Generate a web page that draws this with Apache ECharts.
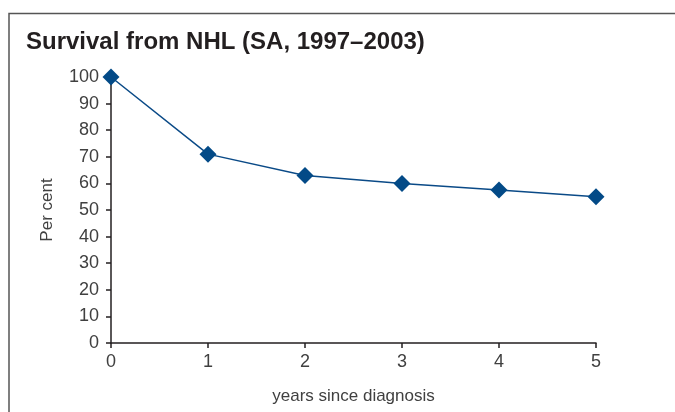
<!DOCTYPE html>
<html><head><meta charset="utf-8">
<script src="https://cdn.jsdelivr.net/npm/echarts@6/dist/echarts.min.js"></script>
<style>html,body{margin:0;padding:0;background:#fff}#c{width:675px;height:412px}</style>
</head><body><div id="c"></div>
<script>
var years = [0, 1, 2, 3, 4, 5];
var survival = [100, 71, 63, 60, 57.5, 55];
var yTicks = [0, 10, 20, 30, 40, 50, 60, 70, 80, 90, 100];

var chart = echarts.init(document.getElementById('c'), null, {renderer: 'canvas'});
var axisColor = '#231f20';
var labelColor = '#404040';
chart.setOption({
  animation: false,
  backgroundColor: '#fff',
  title: {
    text: 'Survival from NHL (SA, 1997\u20132003)',
    left: 21, top: 25,
    textStyle: {fontFamily: 'Liberation Sans', fontSize: 24, fontWeight: 'bold', color: '#231f20'}
  },
  graphic: [{
    type: 'polyline', silent: true,
    shape: {points: [[9, 412], [9, 13.5], [675, 13.5]]},
    style: {stroke: '#555', lineWidth: 1.5, fill: null}
  }],
  grid: {left: 111, right: 79, top: 77, bottom: 69, containLabel: false},
  xAxis: {
    type: 'value', min: 0, max: 5, interval: 1,
    name: 'years since diagnosis', nameLocation: 'middle', nameGap: 45,
    nameTextStyle: {fontFamily: 'Liberation Sans', fontSize: 17, color: labelColor},
    axisLine: {show: true, lineStyle: {color: axisColor, width: 1.5}},
    axisTick: {show: true, length: 5, lineStyle: {color: axisColor, width: 1.5}},
    axisLabel: {fontFamily: 'Liberation Sans', fontSize: 18, color: labelColor, margin: 10,
      formatter: function (v) { return years.indexOf(v) >= 0 ? String(v) : ''; }},
    splitLine: {show: false}
  },
  yAxis: {
    type: 'value', min: 0, max: 100, interval: 10,
    name: 'Per cent', nameLocation: 'middle', nameGap: 55,
    nameTextStyle: {fontFamily: 'Liberation Sans', fontSize: 17, color: labelColor},
    axisLine: {show: true, lineStyle: {color: axisColor, width: 1.5}},
    axisTick: {show: true, length: 5, lineStyle: {color: axisColor, width: 1.5}},
    axisLabel: {fontFamily: 'Liberation Sans', fontSize: 18, color: labelColor, margin: 12,
      formatter: function (v) { return yTicks.indexOf(v) >= 0 ? String(v) : ''; }},
    splitLine: {show: false}
  },
  series: [{
    type: 'line',
    data: years.map(function (y, i) { return [y, survival[i]]; }),
    symbol: 'diamond', symbolSize: 17,
    lineStyle: {color: '#0a4a87', width: 1.5},
    itemStyle: {color: '#034a87'},
    clip: false
  }]
});
</script></body></html>
